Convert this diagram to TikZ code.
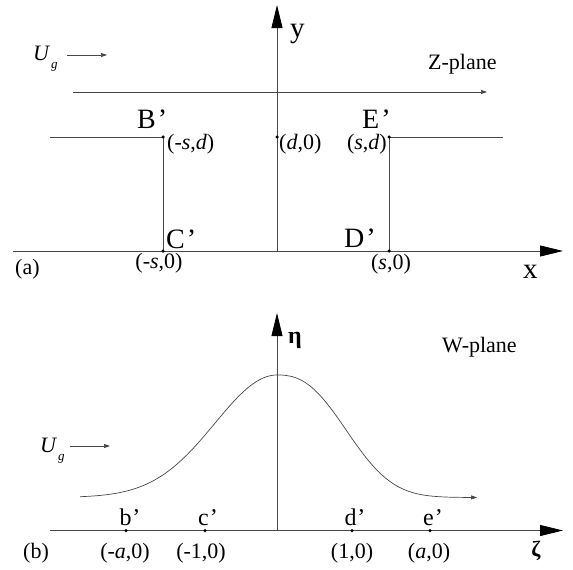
\documentclass[tikz,border=0pt]{standalone}
\usepackage{fontspec}
\setmainfont{Liberation Serif}
\usetikzlibrary{arrows.meta,positioning}

\begin{document}
\begin{tikzpicture}[x=1pt,y=-1pt,
  line/.style={draw=black!72,line width=0.8pt},
  axis/.style={line,-{Triangle[length=23pt,width=11pt,color=black]}},
  flow/.style={line,line width=0.7pt,-{Triangle[length=6pt,width=4pt]}},
  dot/.style={circle,fill=black,inner sep=0pt,minimum size=3.5pt},
  txt/.style={inner sep=0pt,font=\fontsize{22}{22}\selectfont},
  pnt/.style={inner sep=0pt,font=\fontsize{28}{28}\selectfont},
  sml/.style={inner sep=0pt,font=\fontsize{24}{24}\selectfont},
  axl/.style={inner sep=0pt,font=\fontsize{29}{29}\selectfont}]
  \useasboundingbox (0,0) rectangle (573,570);
  % Z-plane
  \coordinate (zO) at (277,251);
  \coordinate (zL) at (13,251);
  \coordinate (zX) at (563,251);
  \coordinate (zY) at (277,5);
  \coordinate (BL) at (50,137);
  \coordinate (ER) at (503,137);
  \coordinate (sL) at (73,92);
  \coordinate (sR) at (487,92);
  \coordinate (uA) at (67,55);
  \coordinate (uB) at (107,55);
  \draw[axis] (zL) -- (zX);
  \draw[axis] (zO) -- (zY);
  \draw[line] (BL) -- (163,137) coordinate (B) -- (163,251) coordinate (C);
  \draw[line] (ER) -- (389,137) coordinate (E) -- (389,251) coordinate (D);
  \draw[flow] (sL) -- (sR);
  \draw[flow] (uA) -- (uB);
  \node[dot] (Bd) at (B) {};
  \node[dot] (Cd) at (C) {};
  \node[dot] (Ed) at (E) {};
  \node[dot] (Dd) at (D) {};
  \node[dot] (dO) at (277,137) {};
  \node[axl,anchor=base west] (ylab) at (290,37) {y};
  \node[axl,anchor=base west] (xlab) at (523,278) {x};
  \node[txt,anchor=base west] (zpl) at (428,69) {Z-plane};
  \node[txt,anchor=base west] (Ug1) at (33,60) {\itshape U\kern2pt\raisebox{-8pt}{\fontsize{13}{13}\selectfont g}};
  \node[pnt,anchor=base west] (Blab) at (137,128) {B\kern2pt’};
  \node[pnt,anchor=base west] (Clab) at (166,248) {C\kern2pt’};
  \node[pnt,anchor=base west] (Elab) at (362,128) {E\kern2pt’};
  \node[pnt,anchor=base west] (Dlab) at (344,247) {D\kern2pt’};
  \node[txt,anchor=base west] (Bc) at (167,149) {(-\textit{s},\textit{d})};
  \node[txt,anchor=base west] (dc) at (279,149) {(\textit{d},0)};
  \node[txt,anchor=base east] (Ec) at (387,149) {(\textit{s},\textit{d})};
  \node[txt,anchor=base] (Cc) at (159,268) {(-\textit{s},0)};
  \node[txt,anchor=base] (Dc) at (391,269) {(\textit{s},0)};
  \node[txt,anchor=base west] (pa) at (15,274) {(a)};
  % W-plane
  \coordinate (wO) at (277,530.5);
  \coordinate (wL) at (50,530.5);
  \coordinate (wX) at (563,530.5);
  \coordinate (wY) at (277,313);
  \coordinate (vA) at (70,446);
  \coordinate (vB) at (110,446);
  \draw[axis] (wL) -- (wX);
  \draw[axis] (wO) -- (wY);
  \draw[flow] (vA) -- (vB);
  \draw[flow] plot[domain=80:277,samples=60] (\x,{497.5-122.5*exp(-((\x-277)/87.7)^2)})
    -- plot[domain=278:477,samples=60] (\x,{497.5-122.5*exp(-pow((\x-277)/85,2.5))});
  \node[dot] (b) at (126,530.5) {};
  \node[dot] (c) at (205,530.5) {};
  \node[dot] (d) at (352,530.5) {};
  \node[dot] (e) at (430,530.5) {};
  \node[sml,anchor=base] (blab) at (130,525) {b\kern1pt’};
  \node[sml,anchor=base] (clab) at (208,525) {c\kern1pt’};
  \node[sml,anchor=base] (dlab) at (355,525) {d\kern1pt’};
  \node[sml,anchor=base] (elab) at (433,525) {e\kern1pt’};
  \node[txt,anchor=base] (bc) at (125,558) {(-\textit{a},0)};
  \node[txt,anchor=base] (cc) at (201,558) {(-1,0)};
  \node[txt,anchor=base] (dc2) at (352,558) {(1,0)};
  \node[txt,anchor=base] (ec) at (429,558) {(\textit{a},0)};
  \node[txt,anchor=base west] (pb) at (23,558) {(b)};
  \node[sml,anchor=base west] (eta) at (288,343) {\bfseries η};
  \node[txt,anchor=base] (zeta) at (536,556) {\bfseries ζ};
  \node[txt,anchor=base west] (wpl) at (442,352) {W-plane};
  \node[txt,anchor=base west] (Ug2) at (40,452) {\itshape U\kern2pt\raisebox{-8pt}{\fontsize{13}{13}\selectfont g}};
\end{tikzpicture}
\end{document}
